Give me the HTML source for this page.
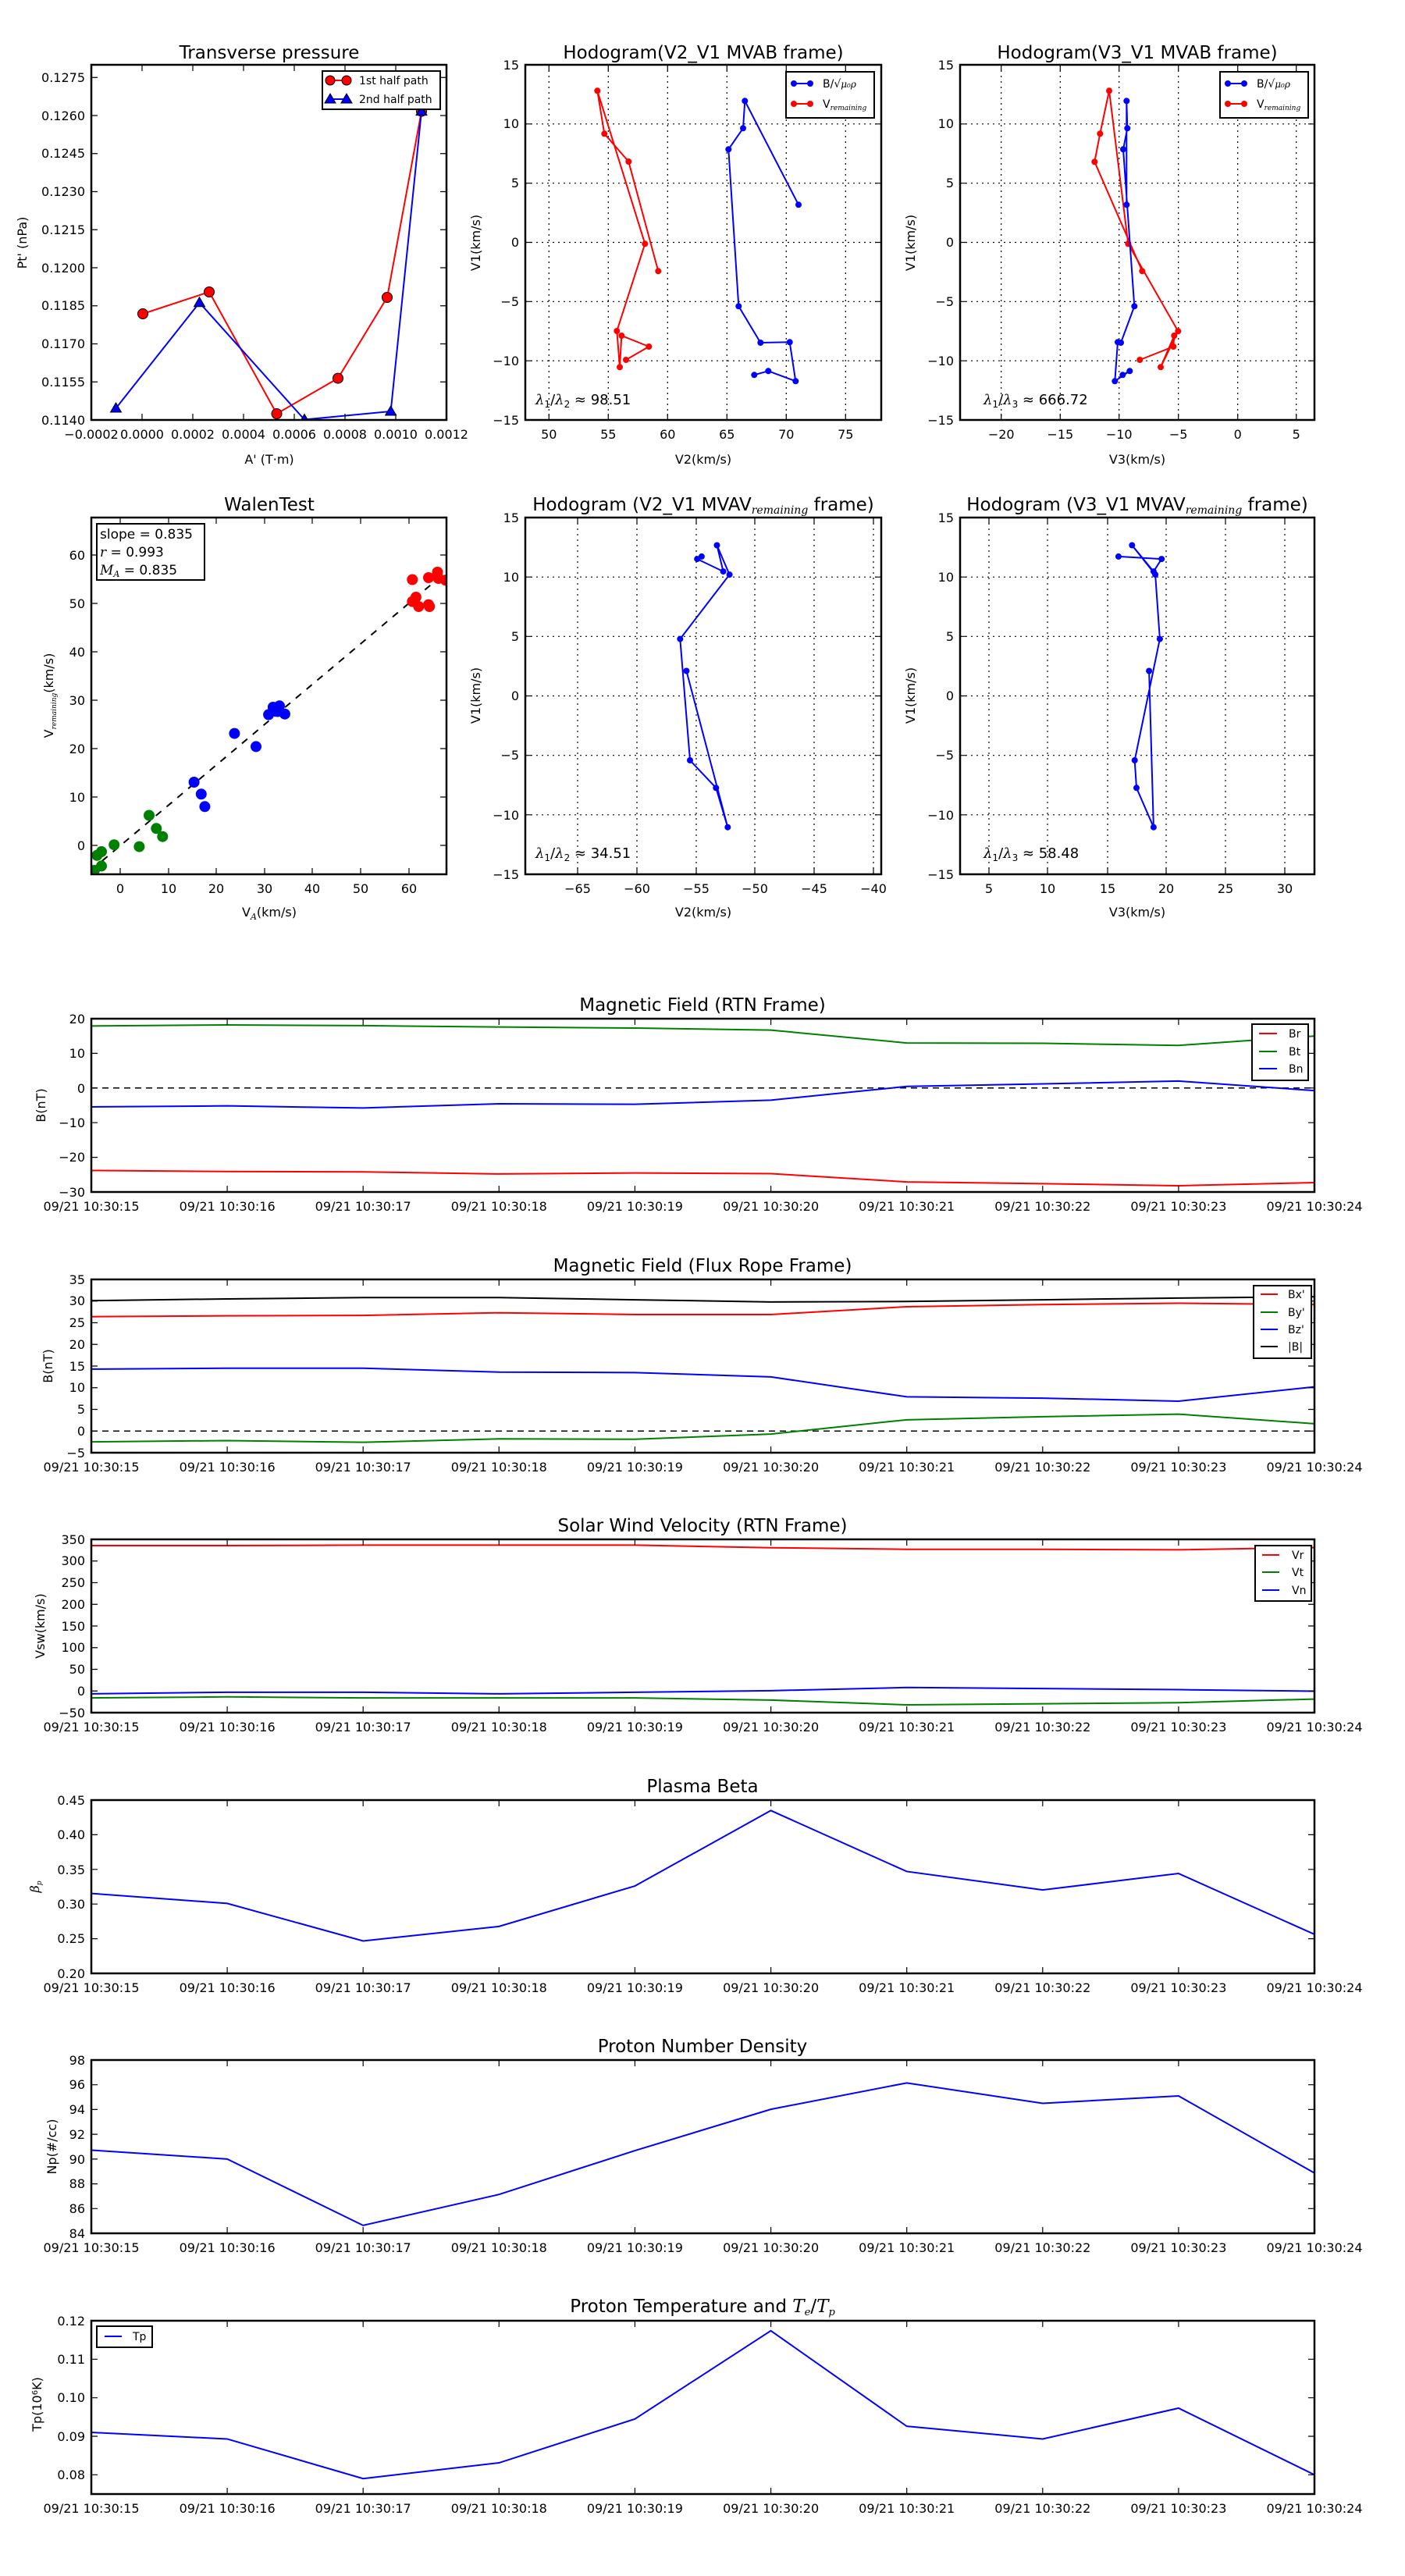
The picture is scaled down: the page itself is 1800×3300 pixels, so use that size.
<!DOCTYPE html>
<html><head><meta charset="utf-8"><style>
html,body{margin:0;padding:0;background:#fff}
svg{display:block}
text{font-family:"DejaVu Sans","Liberation Sans",sans-serif;fill:#000}
.t{font-size:23px;text-anchor:middle}
.k{font-size:18px}
.yl{font-size:16px;text-anchor:end}
.xl{font-size:16px;text-anchor:middle}
.ax{fill:none;stroke:#000;stroke-width:2.5}
.tk{fill:none;stroke:#000;stroke-width:1.2}
.gr{fill:none;stroke:#000;stroke-width:1.2;stroke-dasharray:2,5}
.ln{fill:none;stroke-width:2;vector-effect:non-scaling-stroke}
.lg{font-size:14px}
.m{font-family:"DejaVu Serif",serif;font-style:italic}
</style></head><body>
<svg width="1800" height="3300" viewBox="0 0 1800 3300" xmlns="http://www.w3.org/2000/svg">
<defs>
<clipPath id="c1"><rect x="117" y="83" width="455" height="455"/></clipPath>
<clipPath id="c4"><rect x="117" y="663" width="455" height="457"/></clipPath>
<clipPath id="cts"><rect x="117" y="0" width="1567" height="3300"/></clipPath>
</defs>

<!-- ===== P1 Transverse pressure ===== -->
<text class="t" x="345" y="75">Transverse pressure</text>
<g clip-path="url(#c1)">
<polyline points="183,402 268,374 354.5,530 433,484.6 496,381 540,142.6" fill="none" stroke="#f00" stroke-width="2"/>
<polyline points="148.5,523 255.5,387.7 390,537.5 500.6,527 540,142.6" fill="none" stroke="#00f" stroke-width="2"/>
<g fill="#f00" stroke="#000" stroke-width="1"><circle cx="183" cy="402" r="6.5"/><circle cx="268" cy="374" r="6.5"/><circle cx="354.5" cy="530" r="6.5"/><circle cx="433" cy="484.6" r="6.5"/><circle cx="496" cy="381" r="6.5"/><circle cx="540" cy="142.6" r="6.5"/></g>
<g fill="#00f" stroke="#000" stroke-width="1">
<polygon points="148.5,516 141.5,528 155.5,528"/><polygon points="255.5,380.7 248.5,392.7 262.5,392.7"/><polygon points="390,530.5 383,542.5 397,542.5"/><polygon points="500.6,520 493.6,532 507.6,532"/><polygon points="540,135.6 533,147.6 547,147.6"/></g>
</g>
<rect class="ax" x="117" y="83" width="455" height="455"/>
<path class="tk" d="M182,538v-8M247,538v-8M312,538v-8M377,538v-8M442,538v-8M507,538v-8M182,83v8M247,83v8M312,83v8M377,83v8M442,83v8M507,83v8M117,489.25h8M117,440.5h8M117,391.75h8M117,343h8M117,294.25h8M117,245.5h8M117,196.75h8M117,148h8M117,99.25h8M572,489.25h-8M572,440.5h-8M572,391.75h-8M572,343h-8M572,294.25h-8M572,245.5h-8M572,196.75h-8M572,148h-8M572,99.25h-8"/>
<g class="yl"><text x="109" y="544">0.1140</text><text x="109" y="495">0.1155</text><text x="109" y="446">0.1170</text><text x="109" y="397">0.1185</text><text x="109" y="349">0.1200</text><text x="109" y="300">0.1215</text><text x="109" y="251">0.1230</text><text x="109" y="202">0.1245</text><text x="109" y="154">0.1260</text><text x="109" y="105">0.1275</text></g>
<g class="xl"><text x="117" y="562">−0.0002</text><text x="182" y="562">0.0000</text><text x="247" y="562">0.0002</text><text x="312" y="562">0.0004</text><text x="377" y="562">0.0006</text><text x="442" y="562">0.0008</text><text x="507" y="562">0.0010</text><text x="572" y="562">0.0012</text></g>
<text class="xl" x="345" y="594">A' (T·m)</text>
<text class="xl" transform="translate(34,311) rotate(-90)">Pt' (nPa)</text>
<rect x="413" y="91" width="151" height="49" fill="#fff" stroke="#000" stroke-width="2"/>
<line x1="423" y1="103" x2="444" y2="103" stroke="#f00" stroke-width="2"/><circle cx="423" cy="103" r="6" fill="#f00" stroke="#000"/><circle cx="444" cy="103" r="6" fill="#f00" stroke="#000"/>
<line x1="423" y1="127" x2="444" y2="127" stroke="#00f" stroke-width="2"/><polygon points="423,120 416,132 430,132" fill="#00f" stroke="#000"/><polygon points="444,120 437,132 451,132" fill="#00f" stroke="#000"/>
<text class="lg" x="460" y="108">1st half path</text><text class="lg" x="460" y="132">2nd half path</text>

<!-- ===== P2 ===== -->
<text class="t" x="901" y="75">Hodogram(V2_V1 MVAB frame)</text>
<path class="gr" d="M703.3,83V538M779.3,83V538M855.3,83V538M931.3,83V538M1007.3,83V538M1083.3,83V538M673,158.8H1129M673,234.7H1129M673,310.5H1129M673,386.3H1129M673,462.2H1129"/>
<polyline points="843.3,347.3 805.3,207 774.3,171.3 765.3,116.3 826.3,312.3 790.3,424 794,470.3 796.3,430 831.3,444 802,461" fill="none" stroke="#f00" stroke-width="2"/>
<g fill="#f00"><circle cx="843.3" cy="347.3" r="4"/><circle cx="805.3" cy="207" r="4"/><circle cx="774.3" cy="171.3" r="4"/><circle cx="765.3" cy="116.3" r="4"/><circle cx="826.3" cy="312.3" r="4"/><circle cx="790.3" cy="424" r="4"/><circle cx="794" cy="470.3" r="4"/><circle cx="796.3" cy="430" r="4"/><circle cx="831.3" cy="444" r="4"/><circle cx="802" cy="461" r="4"/></g>
<polyline points="1023,262.3 954.3,129.3 952,164.3 933.3,191.3 946.3,392.3 974.3,439 1011.7,438.3 1019.3,488.3 984.3,475.3 966.3,480.3" fill="none" stroke="#00f" stroke-width="2"/>
<g fill="#00f"><circle cx="1023" cy="262.3" r="4"/><circle cx="954.3" cy="129.3" r="4"/><circle cx="952" cy="164.3" r="4"/><circle cx="933.3" cy="191.3" r="4"/><circle cx="946.3" cy="392.3" r="4"/><circle cx="974.3" cy="439" r="4"/><circle cx="1011.7" cy="438.3" r="4"/><circle cx="1019.3" cy="488.3" r="4"/><circle cx="984.3" cy="475.3" r="4"/><circle cx="966.3" cy="480.3" r="4"/></g>
<rect class="ax" x="673" y="83" width="456" height="455"/>
<path class="tk" d="M703.3,538v-8M779.3,538v-8M855.3,538v-8M931.3,538v-8M1007.3,538v-8M1083.3,538v-8M703.3,83v8M779.3,83v8M855.3,83v8M931.3,83v8M1007.3,83v8M1083.3,83v8M673,158.8h8M673,234.7h8M673,310.5h8M673,386.3h8M673,462.2h8M1129,158.8h-8M1129,234.7h-8M1129,310.5h-8M1129,386.3h-8M1129,462.2h-8"/>
<g class="yl"><text x="665" y="89">15</text><text x="665" y="164">10</text><text x="665" y="240">5</text><text x="665" y="316">0</text><text x="665" y="392">−5</text><text x="665" y="468">−10</text><text x="665" y="544">−15</text></g>
<g class="xl"><text x="703.3" y="562">50</text><text x="779.3" y="562">55</text><text x="855.3" y="562">60</text><text x="931.3" y="562">65</text><text x="1007.3" y="562">70</text><text x="1083.3" y="562">75</text></g>
<text class="xl" x="901" y="594">V2(km/s)</text>
<text class="xl" transform="translate(615,311) rotate(-90)">V1(km/s)</text>
<text class="k" x="686" y="518"><tspan class="m">λ</tspan><tspan font-size="12" dy="4">1</tspan><tspan dy="-4">/</tspan><tspan class="m">λ</tspan><tspan font-size="12" dy="4">2</tspan><tspan dy="-4"> ≈ 98.51</tspan></text>
<rect x="1007" y="92" width="113" height="59" fill="#fff" stroke="#000" stroke-width="2"/>
<line x1="1017" y1="107" x2="1038" y2="107" stroke="#00f" stroke-width="2"/><circle cx="1017" cy="107" r="4" fill="#00f"/><circle cx="1038" cy="107" r="4" fill="#00f"/>
<line x1="1017" y1="133" x2="1038" y2="133" stroke="#f00" stroke-width="2"/><circle cx="1017" cy="133" r="4" fill="#f00"/><circle cx="1038" cy="133" r="4" fill="#f00"/>
<text class="lg" x="1054" y="112">B/√<tspan class="m" font-size="12">μ₀ρ</tspan></text>
<text class="lg" x="1054" y="138">V<tspan class="m" font-size="9" dy="3">remaining</tspan></text>

<!-- ===== P3 ===== -->
<text class="t" x="1457" y="75">Hodogram(V3_V1 MVAB frame)</text>
<path class="gr" d="M1282.7,83V538M1358.3,83V538M1433.7,83V538M1509.7,83V538M1585.7,83V538M1660.7,83V538M1230,158.8H1684M1230,234.7H1684M1230,310.5H1684M1230,386.3H1684M1230,462.2H1684"/>
<polyline points="1463.3,347.3 1402.3,207.3 1409.3,171.3 1421,116.3 1445.3,312.3 1509.3,424.3 1487,470.3 1504.3,430 1503.3,444 1460.3,461" fill="none" stroke="#f00" stroke-width="2"/>
<g fill="#f00"><circle cx="1463.3" cy="347.3" r="4"/><circle cx="1402.3" cy="207.3" r="4"/><circle cx="1409.3" cy="171.3" r="4"/><circle cx="1421" cy="116.3" r="4"/><circle cx="1445.3" cy="312.3" r="4"/><circle cx="1509.3" cy="424.3" r="4"/><circle cx="1487" cy="470.3" r="4"/><circle cx="1504.3" cy="430" r="4"/><circle cx="1503.3" cy="444" r="4"/><circle cx="1460.3" cy="461" r="4"/></g>
<polyline points="1443.3,262.3 1443.3,129.3 1444.3,164.3 1439,191.3 1453.3,392.3 1436,439 1432,438.3 1428.3,488.3 1447.3,475.3 1438.3,480.3" fill="none" stroke="#00f" stroke-width="2"/>
<g fill="#00f"><circle cx="1443.3" cy="262.3" r="4"/><circle cx="1443.3" cy="129.3" r="4"/><circle cx="1444.3" cy="164.3" r="4"/><circle cx="1439" cy="191.3" r="4"/><circle cx="1453.3" cy="392.3" r="4"/><circle cx="1436" cy="439" r="4"/><circle cx="1432" cy="438.3" r="4"/><circle cx="1428.3" cy="488.3" r="4"/><circle cx="1447.3" cy="475.3" r="4"/><circle cx="1438.3" cy="480.3" r="4"/></g>
<rect class="ax" x="1230" y="83" width="454" height="455"/>
<path class="tk" d="M1282.7,538v-8M1358.3,538v-8M1433.7,538v-8M1509.7,538v-8M1585.7,538v-8M1660.7,538v-8M1282.7,83v8M1358.3,83v8M1433.7,83v8M1509.7,83v8M1585.7,83v8M1660.7,83v8M1230,158.8h8M1230,234.7h8M1230,310.5h8M1230,386.3h8M1230,462.2h8M1684,158.8h-8M1684,234.7h-8M1684,310.5h-8M1684,386.3h-8M1684,462.2h-8"/>
<g class="yl"><text x="1222" y="89">15</text><text x="1222" y="164">10</text><text x="1222" y="240">5</text><text x="1222" y="316">0</text><text x="1222" y="392">−5</text><text x="1222" y="468">−10</text><text x="1222" y="544">−15</text></g>
<g class="xl"><text x="1282.7" y="562">−20</text><text x="1358.3" y="562">−15</text><text x="1433.7" y="562">−10</text><text x="1509.7" y="562">−5</text><text x="1585.7" y="562">0</text><text x="1660.7" y="562">5</text></g>
<text class="xl" x="1457" y="594">V3(km/s)</text>
<text class="xl" transform="translate(1172,311) rotate(-90)">V1(km/s)</text>
<text class="k" x="1260" y="518"><tspan class="m">λ</tspan><tspan font-size="12" dy="4">1</tspan><tspan dy="-4">/</tspan><tspan class="m">λ</tspan><tspan font-size="12" dy="4">3</tspan><tspan dy="-4"> ≈ 666.72</tspan></text>
<rect x="1563" y="92" width="113" height="59" fill="#fff" stroke="#000" stroke-width="2"/>
<line x1="1573" y1="107" x2="1594" y2="107" stroke="#00f" stroke-width="2"/><circle cx="1573" cy="107" r="4" fill="#00f"/><circle cx="1594" cy="107" r="4" fill="#00f"/>
<line x1="1573" y1="133" x2="1594" y2="133" stroke="#f00" stroke-width="2"/><circle cx="1573" cy="133" r="4" fill="#f00"/><circle cx="1594" cy="133" r="4" fill="#f00"/>
<text class="lg" x="1610" y="112">B/√<tspan class="m" font-size="12">μ₀ρ</tspan></text>
<text class="lg" x="1610" y="138">V<tspan class="m" font-size="9" dy="3">remaining</tspan></text>

<!-- ===== P4 WalenTest ===== -->
<text class="t" x="345" y="654">WalenTest</text>
<g clip-path="url(#c4)">
<line x1="117" y1="1114.5" x2="572" y2="732.4" stroke="#000" stroke-width="2" stroke-dasharray="9,9"/>
<g fill="#008000"><circle cx="120.9" cy="1115" r="7"/><circle cx="124.3" cy="1095.8" r="7"/><circle cx="130" cy="1091" r="7"/><circle cx="130" cy="1109.4" r="7"/><circle cx="146.2" cy="1082.2" r="7"/><circle cx="178.4" cy="1084.6" r="7"/><circle cx="191" cy="1044.5" r="7"/><circle cx="200.3" cy="1061.3" r="7"/><circle cx="208.3" cy="1071.7" r="7"/></g>
<g fill="#00f"><circle cx="248.6" cy="1002" r="7"/><circle cx="257.8" cy="1017.3" r="7"/><circle cx="262.4" cy="1033.3" r="7"/><circle cx="300.4" cy="939.6" r="7"/><circle cx="328" cy="956.4" r="7"/><circle cx="344.1" cy="915.5" r="7"/><circle cx="349.9" cy="906" r="7"/><circle cx="358" cy="904.3" r="7"/><circle cx="364.9" cy="914.7" r="7"/><circle cx="355.6" cy="911.5" r="7"/></g>
<g fill="#f00"><circle cx="528.3" cy="742.5" r="7"/><circle cx="532.9" cy="765" r="7"/><circle cx="536.4" cy="777" r="7"/><circle cx="549" cy="740" r="7"/><circle cx="550.2" cy="777" r="7"/><circle cx="549" cy="774.6" r="7"/><circle cx="560.5" cy="733" r="7"/><circle cx="561.7" cy="741" r="7"/><circle cx="570.9" cy="743.3" r="7"/><circle cx="528.3" cy="770.6" r="7"/></g>
</g>
<rect class="ax" x="117" y="663" width="455" height="457"/>
<path class="tk" d="M154,1120v-8M216,1120v-8M277,1120v-8M339,1120v-8M400,1120v-8M462,1120v-8M524,1120v-8M154,663v8M216,663v8M277,663v8M339,663v8M400,663v8M462,663v8M524,663v8M117,1083h8M117,1021h8M117,959h8M117,897h8M117,835h8M117,773h8M117,711h8M572,1083h-8M572,1021h-8M572,959h-8M572,897h-8M572,835h-8M572,773h-8M572,711h-8"/>
<g class="yl"><text x="109" y="1089">0</text><text x="109" y="1027">10</text><text x="109" y="965">20</text><text x="109" y="903">30</text><text x="109" y="841">40</text><text x="109" y="779">50</text><text x="109" y="717">60</text></g>
<g class="xl"><text x="154" y="1144">0</text><text x="216" y="1144">10</text><text x="277" y="1144">20</text><text x="339" y="1144">30</text><text x="400" y="1144">40</text><text x="462" y="1144">50</text><text x="524" y="1144">60</text></g>
<text class="xl" x="345" y="1174">V<tspan class="m" font-size="11" dy="4">A</tspan><tspan dy="-4">(km/s)</tspan></text>
<text class="xl" transform="translate(68,891) rotate(-90)">V<tspan class="m" font-size="9" dy="4">remaining</tspan><tspan dy="-4">(km/s)</tspan></text>
<rect x="124" y="671" width="138" height="72" fill="#fff" stroke="#000" stroke-width="2"/>
<text font-size="17" x="128" y="690">slope = 0.835</text>
<text font-size="17" x="128" y="713"><tspan class="m">r</tspan> = 0.993</text>
<text font-size="17" x="128" y="736"><tspan class="m">M</tspan><tspan class="m" font-size="11" dy="3">A</tspan><tspan dy="-3"> = 0.835</tspan></text>

<!-- ===== P5 ===== -->
<text class="t" x="901" y="654">Hodogram (V2_V1 MVAV<tspan class="m" font-size="14" dy="4">remaining</tspan><tspan dy="-4"> frame)</tspan></text>
<path class="gr" d="M740,663V1120M816,663V1120M892,663V1120M967,663V1120M1043,663V1120M1119,663V1120M673,739.2H1129M673,815.3H1129M673,891.5H1129M673,967.7H1129M673,1043.8H1129"/>
<polyline points="898.9,712.9 893.2,716.1 926.6,732.1 918.5,698.5 934.6,736.1 871.3,818.6 884,974 917.3,1009.3 932.3,1059.7 879.4,859.5" fill="none" stroke="#00f" stroke-width="2"/>
<g fill="#00f"><circle cx="898.9" cy="712.9" r="4"/><circle cx="893.2" cy="716.1" r="4"/><circle cx="926.6" cy="732.1" r="4"/><circle cx="918.5" cy="698.5" r="4"/><circle cx="934.6" cy="736.1" r="4"/><circle cx="871.3" cy="818.6" r="4"/><circle cx="884" cy="974" r="4"/><circle cx="917.3" cy="1009.3" r="4"/><circle cx="932.3" cy="1059.7" r="4"/><circle cx="879.4" cy="859.5" r="4"/></g>
<rect class="ax" x="673" y="663" width="456" height="457"/>
<path class="tk" d="M740,1120v-8M816,1120v-8M892,1120v-8M967,1120v-8M1043,1120v-8M1119,1120v-8M740,663v8M816,663v8M892,663v8M967,663v8M1043,663v8M1119,663v8M673,739.2h8M673,815.3h8M673,891.5h8M673,967.7h8M673,1043.8h8M1129,739.2h-8M1129,815.3h-8M1129,891.5h-8M1129,967.7h-8M1129,1043.8h-8"/>
<g class="yl"><text x="665" y="669">15</text><text x="665" y="745">10</text><text x="665" y="821">5</text><text x="665" y="897">0</text><text x="665" y="973">−5</text><text x="665" y="1050">−10</text><text x="665" y="1126">−15</text></g>
<g class="xl"><text x="740" y="1144">−65</text><text x="816" y="1144">−60</text><text x="892" y="1144">−55</text><text x="967" y="1144">−50</text><text x="1043" y="1144">−45</text><text x="1119" y="1144">−40</text></g>
<text class="xl" x="901" y="1174">V2(km/s)</text>
<text class="xl" transform="translate(615,891) rotate(-90)">V1(km/s)</text>
<text class="k" x="686" y="1099"><tspan class="m">λ</tspan><tspan font-size="12" dy="4">1</tspan><tspan dy="-4">/</tspan><tspan class="m">λ</tspan><tspan font-size="12" dy="4">2</tspan><tspan dy="-4"> ≈ 34.51</tspan></text>

<!-- ===== P6 ===== -->
<text class="t" x="1457" y="654">Hodogram (V3_V1 MVAV<tspan class="m" font-size="14" dy="4">remaining</tspan><tspan dy="-4"> frame)</tspan></text>
<path class="gr" d="M1267,663V1120M1342,663V1120M1419,663V1120M1494,663V1120M1570,663V1120M1646,663V1120M1230,739.2H1684M1230,815.3H1684M1230,891.5H1684M1230,967.7H1684M1230,1043.8H1684"/>
<polyline points="1432.9,712.9 1488.2,716.1 1477.9,732.1 1450.3,698.5 1480.1,736.1 1485.9,818.6 1453.7,974 1456,1009.3 1477.9,1059.7 1472.1,859.5" fill="none" stroke="#00f" stroke-width="2"/>
<g fill="#00f"><circle cx="1432.9" cy="712.9" r="4"/><circle cx="1488.2" cy="716.1" r="4"/><circle cx="1477.9" cy="732.1" r="4"/><circle cx="1450.3" cy="698.5" r="4"/><circle cx="1480.1" cy="736.1" r="4"/><circle cx="1485.9" cy="818.6" r="4"/><circle cx="1453.7" cy="974" r="4"/><circle cx="1456" cy="1009.3" r="4"/><circle cx="1477.9" cy="1059.7" r="4"/><circle cx="1472.1" cy="859.5" r="4"/></g>
<rect class="ax" x="1230" y="663" width="454" height="457"/>
<path class="tk" d="M1267,1120v-8M1342,1120v-8M1419,1120v-8M1494,1120v-8M1570,1120v-8M1646,1120v-8M1267,663v8M1342,663v8M1419,663v8M1494,663v8M1570,663v8M1646,663v8M1230,739.2h8M1230,815.3h8M1230,891.5h8M1230,967.7h8M1230,1043.8h8M1684,739.2h-8M1684,815.3h-8M1684,891.5h-8M1684,967.7h-8M1684,1043.8h-8"/>
<g class="yl"><text x="1222" y="669">15</text><text x="1222" y="745">10</text><text x="1222" y="821">5</text><text x="1222" y="897">0</text><text x="1222" y="973">−5</text><text x="1222" y="1050">−10</text><text x="1222" y="1126">−15</text></g>
<g class="xl"><text x="1267" y="1144">5</text><text x="1342" y="1144">10</text><text x="1419" y="1144">15</text><text x="1494" y="1144">20</text><text x="1570" y="1144">25</text><text x="1646" y="1144">30</text></g>
<text class="xl" x="1457" y="1174">V3(km/s)</text>
<text class="xl" transform="translate(1172,891) rotate(-90)">V1(km/s)</text>
<text class="k" x="1260" y="1099"><tspan class="m">λ</tspan><tspan font-size="12" dy="4">1</tspan><tspan dy="-4">/</tspan><tspan class="m">λ</tspan><tspan font-size="12" dy="4">3</tspan><tspan dy="-4"> ≈ 58.48</tspan></text>

<!-- MagRTN -->
<text class="t" x="900" y="1295">Magnetic Field (RTN Frame)</text>
<g clip-path="url(#cts)">
<line x1="117" y1="1393.8" x2="1684" y2="1393.8" stroke="#000" stroke-width="1.5" stroke-dasharray="8,6"/>
<g transform="translate(117,1305) scale(174.11,-4.44) translate(0,-20)">
<polyline class="ln" stroke="#008000" points="0,17.9 1,18.2 2,18.0 3,17.6 4,17.3 5,16.7 6,13.0 7,12.9 8,12.3 9,15.0"/>
<polyline class="ln" stroke="#00f" points="0,-5.45 1,-5.15 2,-5.76 3,-4.55 4,-4.7 5,-3.5 6,0.45 7,1.2 8,2.0 9,-0.75"/>
<polyline class="ln" stroke="#f00" points="0,-23.8 1,-24.1 2,-24.2 3,-24.8 4,-24.5 5,-24.7 6,-27.1 7,-27.6 8,-28.2 9,-27.3"/>
</g></g>
<rect class="ax" x="117" y="1305" width="1567" height="222"/>
<path class="tk" d="M291.1,1527v-8M465.2,1527v-8M639.3,1527v-8M813.4,1527v-8M987.6,1527v-8M1161.7,1527v-8M1335.8,1527v-8M1509.9,1527v-8M291.1,1305v8M465.2,1305v8M639.3,1305v8M813.4,1305v8M987.6,1305v8M1161.7,1305v8M1335.8,1305v8M1509.9,1305v8M117,1349.4h8M117,1393.8h8M117,1438.2h8M117,1482.6h8M1684,1349.4h-8M1684,1393.8h-8M1684,1438.2h-8M1684,1482.6h-8"/>
<g class="yl"><text x="109" y="1311">20</text><text x="109" y="1355">10</text><text x="109" y="1400">0</text><text x="109" y="1444">−10</text><text x="109" y="1488">−20</text><text x="109" y="1533">−30</text></g>
<g class="xl"><text x="117" y="1551">09/21 10:30:15</text><text x="291.1" y="1551">09/21 10:30:16</text><text x="465.2" y="1551">09/21 10:30:17</text><text x="639.3" y="1551">09/21 10:30:18</text><text x="813.4" y="1551">09/21 10:30:19</text><text x="987.6" y="1551">09/21 10:30:20</text><text x="1161.7" y="1551">09/21 10:30:21</text><text x="1335.8" y="1551">09/21 10:30:22</text><text x="1509.9" y="1551">09/21 10:30:23</text><text x="1684" y="1551">09/21 10:30:24</text></g>
<text class="xl" transform="translate(58,1416) rotate(-90)">B(nT)</text>
<rect x="1604" y="1312" width="72" height="72" fill="#fff" stroke="#000" stroke-width="2"/>
<line x1="1613" y1="1324" x2="1636" y2="1324" stroke="#f00" stroke-width="2"/><line x1="1613" y1="1347" x2="1636" y2="1347" stroke="#008000" stroke-width="2"/><line x1="1613" y1="1369" x2="1636" y2="1369" stroke="#00f" stroke-width="2"/>
<text class="lg" x="1651" y="1329">Br</text><text class="lg" x="1651" y="1352">Bt</text><text class="lg" x="1651" y="1374">Bn</text>

<!-- MagFR -->
<text class="t" x="900" y="1629">Magnetic Field (Flux Rope Frame)</text>
<g clip-path="url(#cts)">
<line x1="117" y1="1833.25" x2="1684" y2="1833.25" stroke="#000" stroke-width="1.5" stroke-dasharray="8,6"/>
<g transform="translate(117,1639) scale(174.11,-5.55) translate(0,-35)">
<polyline class="ln" stroke="#000" points="0,30.1 1,30.5 2,30.8 3,30.8 4,30.3 5,29.8 6,29.9 7,30.3 8,30.7 9,31.0"/>
<polyline class="ln" stroke="#f00" points="0,26.4 1,26.6 2,26.7 3,27.3 4,26.9 5,26.9 6,28.7 7,29.2 8,29.5 9,29.2"/>
<polyline class="ln" stroke="#00f" points="0,14.3 1,14.5 2,14.5 3,13.6 4,13.5 5,12.5 6,7.9 7,7.6 8,6.9 9,10.2"/>
<polyline class="ln" stroke="#008000" points="0,-2.5 1,-2.2 2,-2.6 3,-1.8 4,-1.9 5,-0.7 6,2.6 7,3.3 8,3.9 9,1.7"/>
</g></g>
<rect class="ax" x="117" y="1639" width="1567" height="222"/>
<path class="tk" d="M291.1,1861v-8M465.2,1861v-8M639.3,1861v-8M813.4,1861v-8M987.6,1861v-8M1161.7,1861v-8M1335.8,1861v-8M1509.9,1861v-8M291.1,1639v8M465.2,1639v8M639.3,1639v8M813.4,1639v8M987.6,1639v8M1161.7,1639v8M1335.8,1639v8M1509.9,1639v8M117,1666.75h8M117,1694.5h8M117,1722.25h8M117,1750h8M117,1777.75h8M117,1805.5h8M117,1833.25h8M1684,1666.75h-8M1684,1694.5h-8M1684,1722.25h-8M1684,1750h-8M1684,1777.75h-8M1684,1805.5h-8M1684,1833.25h-8"/>
<g class="yl"><text x="109" y="1645">35</text><text x="109" y="1672">30</text><text x="109" y="1700">25</text><text x="109" y="1728">20</text><text x="109" y="1756">15</text><text x="109" y="1783">10</text><text x="109" y="1811">5</text><text x="109" y="1839">0</text><text x="109" y="1867">−5</text></g>
<g class="xl"><text x="117" y="1885">09/21 10:30:15</text><text x="291.1" y="1885">09/21 10:30:16</text><text x="465.2" y="1885">09/21 10:30:17</text><text x="639.3" y="1885">09/21 10:30:18</text><text x="813.4" y="1885">09/21 10:30:19</text><text x="987.6" y="1885">09/21 10:30:20</text><text x="1161.7" y="1885">09/21 10:30:21</text><text x="1335.8" y="1885">09/21 10:30:22</text><text x="1509.9" y="1885">09/21 10:30:23</text><text x="1684" y="1885">09/21 10:30:24</text></g>
<text class="xl" transform="translate(67,1750) rotate(-90)">B(nT)</text>
<rect x="1606" y="1647" width="74" height="93" fill="#fff" stroke="#000" stroke-width="2"/>
<line x1="1615" y1="1658" x2="1637" y2="1658" stroke="#f00" stroke-width="2"/><line x1="1615" y1="1681" x2="1637" y2="1681" stroke="#008000" stroke-width="2"/><line x1="1615" y1="1703" x2="1637" y2="1703" stroke="#00f" stroke-width="2"/><line x1="1615" y1="1725" x2="1637" y2="1725" stroke="#000" stroke-width="2"/>
<text class="lg" x="1650" y="1663">Bx'</text><text class="lg" x="1650" y="1686">By'</text><text class="lg" x="1650" y="1708">Bz'</text><text class="lg" x="1650" y="1730">|B|</text>

<!-- SW -->
<text class="t" x="900" y="1962">Solar Wind Velocity (RTN Frame)</text>
<g clip-path="url(#cts)">
<g transform="translate(117,1972) scale(174.11,-0.555) translate(0,-350)">
<polyline class="ln" stroke="#f00" points="0,335.5 1,335.5 2,336.7 3,336.7 4,336.7 5,330.7 6,327 7,327 8,326 9,331"/>
<polyline class="ln" stroke="#00f" points="0,-6.5 1,-2.9 2,-2.9 3,-6.5 4,-2.9 5,0.7 6,8 7,5.6 8,3.1 9,-0.5"/>
<polyline class="ln" stroke="#008000" points="0,-16 1,-13.6 2,-16 3,-16 4,-16 5,-21 6,-32 7,-29.5 8,-27 9,-18.6"/>
</g></g>
<rect class="ax" x="117" y="1972" width="1567" height="222"/>
<path class="tk" d="M291.1,2194v-8M465.2,2194v-8M639.3,2194v-8M813.4,2194v-8M987.6,2194v-8M1161.7,2194v-8M1335.8,2194v-8M1509.9,2194v-8M291.1,1972v8M465.2,1972v8M639.3,1972v8M813.4,1972v8M987.6,1972v8M1161.7,1972v8M1335.8,1972v8M1509.9,1972v8M117,1999.75h8M117,2027.5h8M117,2055.25h8M117,2083h8M117,2110.75h8M117,2138.5h8M117,2166.25h8M1684,1999.75h-8M1684,2027.5h-8M1684,2055.25h-8M1684,2083h-8M1684,2110.75h-8M1684,2138.5h-8M1684,2166.25h-8"/>
<g class="yl"><text x="109" y="1978">350</text><text x="109" y="2005">300</text><text x="109" y="2033">250</text><text x="109" y="2061">200</text><text x="109" y="2089">150</text><text x="109" y="2116">100</text><text x="109" y="2144">50</text><text x="109" y="2172">0</text><text x="109" y="2200">−50</text></g>
<g class="xl"><text x="117" y="2218">09/21 10:30:15</text><text x="291.1" y="2218">09/21 10:30:16</text><text x="465.2" y="2218">09/21 10:30:17</text><text x="639.3" y="2218">09/21 10:30:18</text><text x="813.4" y="2218">09/21 10:30:19</text><text x="987.6" y="2218">09/21 10:30:20</text><text x="1161.7" y="2218">09/21 10:30:21</text><text x="1335.8" y="2218">09/21 10:30:22</text><text x="1509.9" y="2218">09/21 10:30:23</text><text x="1684" y="2218">09/21 10:30:24</text></g>
<text class="xl" transform="translate(57,2083) rotate(-90)">Vsw(km/s)</text>
<rect x="1608" y="1980" width="72" height="71" fill="#fff" stroke="#000" stroke-width="2"/>
<line x1="1617" y1="1992" x2="1639" y2="1992" stroke="#f00" stroke-width="2"/><line x1="1617" y1="2014" x2="1639" y2="2014" stroke="#008000" stroke-width="2"/><line x1="1617" y1="2037" x2="1639" y2="2037" stroke="#00f" stroke-width="2"/>
<text class="lg" x="1655" y="1997">Vr</text><text class="lg" x="1655" y="2019">Vt</text><text class="lg" x="1655" y="2042">Vn</text>

<!-- Beta -->
<text class="t" x="900" y="2296">Plasma Beta</text>
<g clip-path="url(#cts)">
<g transform="translate(117,2306) scale(174.11,-888) translate(0,-0.45)">
<polyline class="ln" stroke="#00f" points="0,0.3153 1,0.3009 2,0.2468 3,0.2677 4,0.3261 5,0.4349 6,0.3470 7,0.3204 8,0.3441 9,0.2563"/>
</g></g>
<rect class="ax" x="117" y="2306" width="1567" height="222"/>
<path class="tk" d="M291.1,2528v-8M465.2,2528v-8M639.3,2528v-8M813.4,2528v-8M987.6,2528v-8M1161.7,2528v-8M1335.8,2528v-8M1509.9,2528v-8M291.1,2306v8M465.2,2306v8M639.3,2306v8M813.4,2306v8M987.6,2306v8M1161.7,2306v8M1335.8,2306v8M1509.9,2306v8M117,2350.4h8M117,2394.8h8M117,2439.2h8M117,2483.6h8M1684,2350.4h-8M1684,2394.8h-8M1684,2439.2h-8M1684,2483.6h-8"/>
<g class="yl"><text x="109" y="2312">0.45</text><text x="109" y="2356">0.40</text><text x="109" y="2401">0.35</text><text x="109" y="2445">0.30</text><text x="109" y="2489">0.25</text><text x="109" y="2534">0.20</text></g>
<g class="xl"><text x="117" y="2552">09/21 10:30:15</text><text x="291.1" y="2552">09/21 10:30:16</text><text x="465.2" y="2552">09/21 10:30:17</text><text x="639.3" y="2552">09/21 10:30:18</text><text x="813.4" y="2552">09/21 10:30:19</text><text x="987.6" y="2552">09/21 10:30:20</text><text x="1161.7" y="2552">09/21 10:30:21</text><text x="1335.8" y="2552">09/21 10:30:22</text><text x="1509.9" y="2552">09/21 10:30:23</text><text x="1684" y="2552">09/21 10:30:24</text></g>
<text class="xl m" font-size="13" transform="translate(50,2417) rotate(-90)">β<tspan font-size="9" dy="3">p</tspan></text>

<!-- Np -->
<text class="t" x="900" y="2629">Proton Number Density</text>
<g clip-path="url(#cts)">
<g transform="translate(117,2639) scale(174.11,-15.857) translate(0,-98)">
<polyline class="ln" stroke="#00f" points="0,90.72 1,90.0 2,84.64 3,87.14 4,90.68 5,94.02 6,96.15 7,94.5 8,95.1 9,88.87"/>
</g></g>
<rect class="ax" x="117" y="2639" width="1567" height="222"/>
<path class="tk" d="M291.1,2861v-8M465.2,2861v-8M639.3,2861v-8M813.4,2861v-8M987.6,2861v-8M1161.7,2861v-8M1335.8,2861v-8M1509.9,2861v-8M291.1,2639v8M465.2,2639v8M639.3,2639v8M813.4,2639v8M987.6,2639v8M1161.7,2639v8M1335.8,2639v8M1509.9,2639v8M117,2670.7h8M117,2702.4h8M117,2734.1h8M117,2765.9h8M117,2797.6h8M117,2829.3h8M1684,2670.7h-8M1684,2702.4h-8M1684,2734.1h-8M1684,2765.9h-8M1684,2797.6h-8M1684,2829.3h-8"/>
<g class="yl"><text x="109" y="2645">98</text><text x="109" y="2676">96</text><text x="109" y="2708">94</text><text x="109" y="2740">92</text><text x="109" y="2772">90</text><text x="109" y="2803">88</text><text x="109" y="2835">86</text><text x="109" y="2867">84</text></g>
<g class="xl"><text x="117" y="2885">09/21 10:30:15</text><text x="291.1" y="2885">09/21 10:30:16</text><text x="465.2" y="2885">09/21 10:30:17</text><text x="639.3" y="2885">09/21 10:30:18</text><text x="813.4" y="2885">09/21 10:30:19</text><text x="987.6" y="2885">09/21 10:30:20</text><text x="1161.7" y="2885">09/21 10:30:21</text><text x="1335.8" y="2885">09/21 10:30:22</text><text x="1509.9" y="2885">09/21 10:30:23</text><text x="1684" y="2885">09/21 10:30:24</text></g>
<text class="xl" transform="translate(72,2750) rotate(-90)">Np(#/cc)</text>

<!-- Tp -->
<text class="t" x="900" y="2962">Proton Temperature and <tspan class="m">T</tspan><tspan class="m" font-size="13" dy="4">e</tspan><tspan dy="-4">/</tspan><tspan class="m">T</tspan><tspan class="m" font-size="13" dy="4">p</tspan></text>
<g clip-path="url(#cts)">
<g transform="translate(117,2973) scale(174.11,-4933) translate(0,-0.12)">
<polyline class="ln" stroke="#00f" points="0,0.0910 1,0.0893 2,0.0790 3,0.0831 4,0.0945 5,0.1174 6,0.0926 7,0.0893 8,0.0973 9,0.0800"/>
</g></g>
<rect class="ax" x="117" y="2973" width="1567" height="222"/>
<path class="tk" d="M291.1,3195v-8M465.2,3195v-8M639.3,3195v-8M813.4,3195v-8M987.6,3195v-8M1161.7,3195v-8M1335.8,3195v-8M1509.9,3195v-8M291.1,2973v8M465.2,2973v8M639.3,2973v8M813.4,2973v8M987.6,2973v8M1161.7,2973v8M1335.8,2973v8M1509.9,2973v8M117,3022.3h8M117,3071.7h8M117,3121h8M117,3170.3h8M1684,3022.3h-8M1684,3071.7h-8M1684,3121h-8M1684,3170.3h-8"/>
<g class="yl"><text x="109" y="2979">0.12</text><text x="109" y="3028">0.11</text><text x="109" y="3077">0.10</text><text x="109" y="3127">0.09</text><text x="109" y="3176">0.08</text></g>
<g class="xl"><text x="117" y="3219">09/21 10:30:15</text><text x="291.1" y="3219">09/21 10:30:16</text><text x="465.2" y="3219">09/21 10:30:17</text><text x="639.3" y="3219">09/21 10:30:18</text><text x="813.4" y="3219">09/21 10:30:19</text><text x="987.6" y="3219">09/21 10:30:20</text><text x="1161.7" y="3219">09/21 10:30:21</text><text x="1335.8" y="3219">09/21 10:30:22</text><text x="1509.9" y="3219">09/21 10:30:23</text><text x="1684" y="3219">09/21 10:30:24</text></g>
<text class="xl" transform="translate(53,3080) rotate(-90)">Tp(10<tspan font-size="10" dy="-5">6</tspan><tspan dy="5">K)</tspan></text>
<rect x="124" y="2980" width="71" height="27" fill="#fff" stroke="#000" stroke-width="2"/>
<line x1="134" y1="2993" x2="156" y2="2993" stroke="#00f" stroke-width="2"/>
<text class="lg" x="170" y="2998">Tp</text>
</svg>
</body></html>
